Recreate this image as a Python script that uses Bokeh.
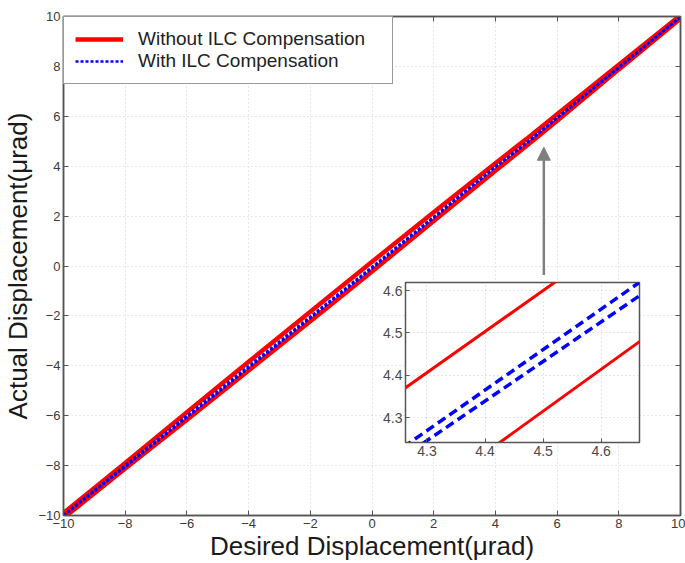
from bokeh.plotting import figure
from bokeh.models import (Legend, LegendItem, LinearAxis, FixedTicker, Arrow,
                          NormalHead, Column)
from bokeh.embed import file_html
from bokeh.resources import INLINE

# ---- data ----
desired = [-10, -8, -6, -4, -2, 0, 2, 4, 5, 6, 8, 10]
without_up = [-9.90, -7.90, -5.86, -3.84, -1.83, 0.17, 2.15, 4.115, 5.085, 6.08, 8.07, 10.05]
without_down = [-10.10, -8.12, -6.16, -4.19, -2.21, -0.22, 1.80, 3.82, 4.81, 5.82, 7.88, 9.92]
with_up = [-9.98, -7.99, -6.00, -4.02, -2.03, -0.04, 1.97, 3.982, 4.939, 5.95, 7.97, 9.99]
with_down = [-10.02, -8.05, -6.07, -4.08, -2.09, -0.09, 1.93, 3.965, 4.900, 5.92, 7.94, 9.97]

main_ticks = [-10, -8, -6, -4, -2, 0, 2, 4, 6, 8, 10]
inset_ticks = [4.3, 4.4, 4.5, 4.6]
inset_x = (4.263, 4.666)
inset_y = (4.241, 4.619)
arrow_x = 5.57
arrow_y = (-0.36, 4.76)

label_without = "Without ILC Compensation"
label_with = "With ILC Compensation"

FONT = "Liberation Sans"
AXC = "#555555"

# ---- main figure ----
p = figure(width=685, height=563, x_range=(-10, 10), y_range=(-10, 10),
           output_backend="svg", toolbar_location=None,
           min_border_left=62, min_border_right=5, min_border_top=16,
           min_border_bottom=47)
p.outline_line_color = AXC
p.outline_line_width = 1.5
p.background_fill_color = "white"

for ax in p.xaxis + p.yaxis:
    ax.ticker = FixedTicker(ticks=main_ticks)
    ax.major_tick_in = 5
    ax.major_tick_out = 0
    ax.minor_tick_line_color = None
    ax.axis_line_color = AXC
    ax.axis_line_width = 1.5
    ax.major_tick_line_color = AXC
    ax.major_label_text_font = FONT
    ax.major_label_text_font_size = "13px"
    ax.major_label_text_color = "#3a3a3a"
    ax.major_label_standoff = 3
    ax.axis_label_text_font = FONT
    ax.axis_label_text_font_size = "26px"
    ax.axis_label_text_font_style = "normal"
    ax.axis_label_text_color = "#1a1a1a"

p.xaxis.axis_label = "Desired Displacement(μrad)"
p.yaxis.axis_label = "Actual Displacement(μrad)"
p.xaxis.axis_label_standoff = 0
p.yaxis.axis_label_standoff = 2

for side in ("above", "right"):
    ax = LinearAxis(ticker=FixedTicker(ticks=main_ticks))
    ax.major_tick_in = 5
    ax.major_tick_out = 0
    ax.minor_tick_line_color = None
    ax.major_label_overrides = {t: "" for t in main_ticks}
    ax.major_label_standoff = 0
    ax.axis_line_color = AXC
    ax.axis_line_width = 1.5
    ax.major_tick_line_color = AXC
    p.add_layout(ax, side)

p.grid.ticker = FixedTicker(ticks=main_ticks)
p.grid.grid_line_color = "#d0d0d0"
p.grid.grid_line_dash = "1 3"
p.grid.grid_line_width = 1

r1 = p.line(desired, without_up, line_color="red", line_width=4.5)
r2 = p.line(desired, without_down, line_color="red", line_width=4.5)
b1 = p.line(desired, with_up, line_color="blue", line_width=2.5, line_dash="3 2")
b2 = p.line(desired, with_down, line_color="blue", line_width=2.5, line_dash="3 2")

p.add_layout(Arrow(end=NormalHead(size=13, fill_color="#7f7f7f", line_color="#7f7f7f"),
                   x_start=arrow_x, y_start=arrow_y[0], x_end=arrow_x, y_end=arrow_y[1],
                   line_color="#7f7f7f", line_width=2.5))

legend = Legend(items=[LegendItem(label=label_without, renderers=[r1]),
                       LegendItem(label=label_with, renderers=[b1])],
                location="top_left", margin=0, padding=11, spacing=-4,
                glyph_width=48, glyph_height=16, label_height=16,
                label_standoff=15, label_width=243,
                label_text_font=FONT, label_text_font_size="19px",
                label_text_color="#222222",
                border_line_color="#333333", border_line_width=1.5,
                background_fill_color="white", background_fill_alpha=1)
p.add_layout(legend)

# ---- inset figure ----
ins = figure(width=302, height=184, x_range=inset_x, y_range=inset_y,
             output_backend="svg", toolbar_location=None,
             min_border_left=61, min_border_right=2, min_border_top=2,
             min_border_bottom=22)
ins.border_fill_alpha = 0
ins.background_fill_color = "white"
ins.outline_line_color = AXC
ins.outline_line_width = 1.5
for ax in ins.xaxis + ins.yaxis:
    ax.ticker = FixedTicker(ticks=inset_ticks)
    ax.axis_label = None
    ax.major_tick_in = 4
    ax.major_tick_out = 0
    ax.minor_tick_line_color = None
    ax.axis_line_color = AXC
    ax.major_tick_line_color = AXC
    ax.major_label_text_font = FONT
    ax.major_label_text_font_size = "14px"
    ax.major_label_text_color = "#4a4a4a"
    ax.major_label_standoff = 3
ins.grid.ticker = FixedTicker(ticks=inset_ticks)
ins.grid.grid_line_color = "#c8c8c8"
ins.grid.grid_line_dash = "1 3"

ins.line(desired, without_up, line_color="red", line_width=3)
ins.line(desired, without_down, line_color="red", line_width=3)
ins.line(desired, with_up, line_color="blue", line_width=3.5, line_dash="9 5")
ins.line(desired, with_down, line_color="blue", line_width=3.5, line_dash="9 5")

ins.styles = {"position": "absolute", "left": "342px", "top": "280px"}

layout = Column(children=[p, ins])
open("out.html", "w").write(file_html(layout, INLINE))
